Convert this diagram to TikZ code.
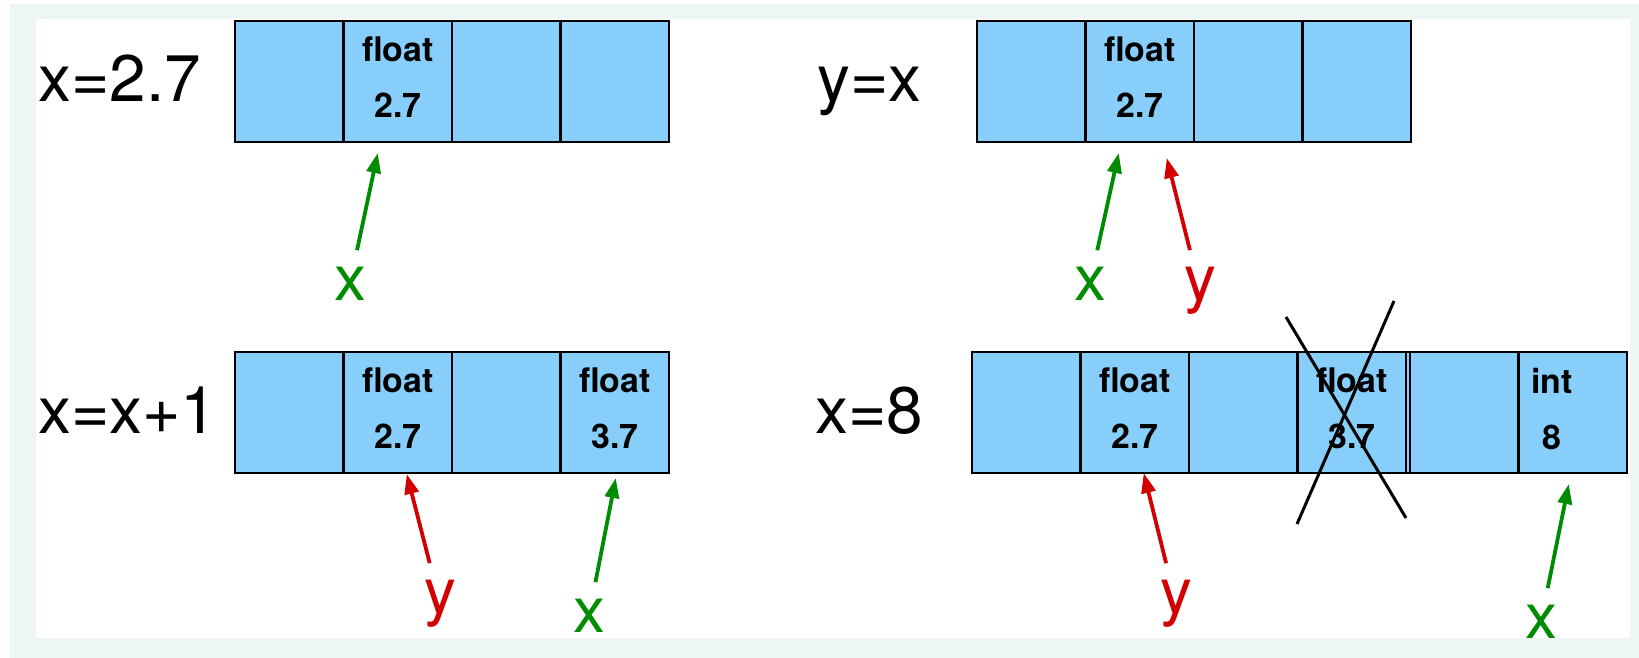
\documentclass[tikz,border=0pt]{standalone}
\usepackage{fontspec}
\setmainfont{TeX Gyre Heros}
\usetikzlibrary{positioning,arrows.meta}
\definecolor{cellblue}{RGB}{135,206,250}
\definecolor{ptrgreen}{RGB}{0,140,0}
\definecolor{ptrred}{RGB}{210,0,0}
\definecolor{framegrey}{RGB}{238,245,245}
\newcommand{\cellval}[2]{#1\\#2\rule[-4bp]{0pt}{0pt}}

\begin{document}
\begin{tikzpicture}[x=0.5bp,y=-0.5bp,>={Triangle[length=10bp,width=7bp]},
    cell/.style={draw, line width=1.3bp, fill=cellblue, minimum width=54.25bp, minimum height=60.5bp,
        inner sep=0pt, outer sep=0pt, align=center, font=\fontsize{17}{28}\selectfont\bfseries},
    celltext/.style={inner sep=0pt, align=center, font=\fontsize{17}{28}\selectfont\bfseries},
    stmt/.style={anchor=base west, inner sep=0pt, font=\fontsize{33}{38}\selectfont},
    var/.style={anchor=base, inner sep=8bp, font=\fontsize{32}{36}\selectfont},
    xptr/.style={->, draw=ptrgreen, fill=ptrgreen, line width=1.9bp},
    yptr/.style={->, draw=ptrred, fill=ptrred, line width=1.9bp}]
        \useasboundingbox (0,0) rectangle (1639,658);
        \fill[white] (0,0) rectangle (1639,658);

        % x=2.7
        \node[stmt] (s1) at (38,102) {x=2.7};
        \node[cell] (c11) at (289.25,81.5) {};
        \node[cell, right=0pt of c11] (c12) {\cellval{float}{2.7}};
        \node[cell, right=0pt of c12] (c13) {};
        \node[cell, right=0pt of c13] (c14) {};
        \node[var, text=ptrgreen] (x1) at (350,300) {x};
        \draw[xptr] (x1) -- ([shift={(-20,11)}]c12.south);

        % y=x
        \node[stmt] (s2) at (817,102) {y=x};
        \node[cell] (c21) at (1031.25,81.5) {};
        \node[cell, right=0pt of c21] (c22) {\cellval{float}{2.7}};
        \node[cell, right=0pt of c22] (c23) {};
        \node[cell, right=0pt of c23] (c24) {};
        \node[var, text=ptrgreen] (x2) at (1090,300) {x};
        \node[var, text=ptrred] (y2) at (1200,300) {y};
        \draw[xptr] (x2) -- ([shift={(-21,11)}]c22.south);
        \draw[yptr] (y2) -- ([shift={(27,16)}]c22.south);

        % x=x+1
        \node[stmt] (s3) at (38,433) {x=x+1};
        \node[cell] (c31) at (289.25,412.5) {};
        \node[cell, right=0pt of c31] (c32) {\cellval{float}{2.7}};
        \node[cell, right=0pt of c32] (c33) {};
        \node[cell, right=0pt of c33] (c34) {\cellval{float}{3.7}};
        \node[var, text=ptrred] (y3) at (440,613) {y};
        \node[var, text=ptrgreen] (x3) at (589,632) {x};
        \draw[yptr] (y3) -- ([shift={(9,1)}]c32.south);
        \draw[xptr] (x3) -- ([shift={(1,5)}]c34.south);

        % x=8
        \node[stmt] (s4) at (815,433) {x=8};
        \node[cell] (c41) at (1026.25,412.5) {};
        \node[cell, right=0pt of c41] (c42) {\cellval{float}{2.7}};
        \node[cell, right=0pt of c42] (c43) {};
        \node[cell, right=0pt of c43] (c44) {\cellval{float}{3.7}};
        \node[cell, right=2bp of c44] (c45) {};
        \node[cell, right=0pt of c45] (c46) {};
        \draw[line width=1.3bp, fill=cellblue] (c44.north east) rectangle (c45.south west);
        \node[celltext] (v46) at ([shift={(-21,0)}]c46.center) {\cellval{int}{8}};
        \draw[line width=1.5bp] ([shift={(-65.75,-95.5)}]c44.center) -- ([shift={(54.25,105.5)}]c44.center);
        \draw[line width=1.5bp] ([shift={(42.25,-111.5)}]c44.center) -- ([shift={(-54.75,111.5)}]c44.center);
        \node[var, text=ptrred] (y4) at (1176,613) {y};
        \node[var, text=ptrgreen] (x4) at (1541,638) {x};
        \draw[yptr] (y4) -- ([shift={(9,0)}]c42.south);
        \draw[xptr] (x4) -- ([shift={(-4,11)}]c46.south);

        \fill[framegrey, even odd rule] (10,4) rectangle (1639,658) (36,19) rectangle (1630,638);
    \end{tikzpicture}
\end{document}
